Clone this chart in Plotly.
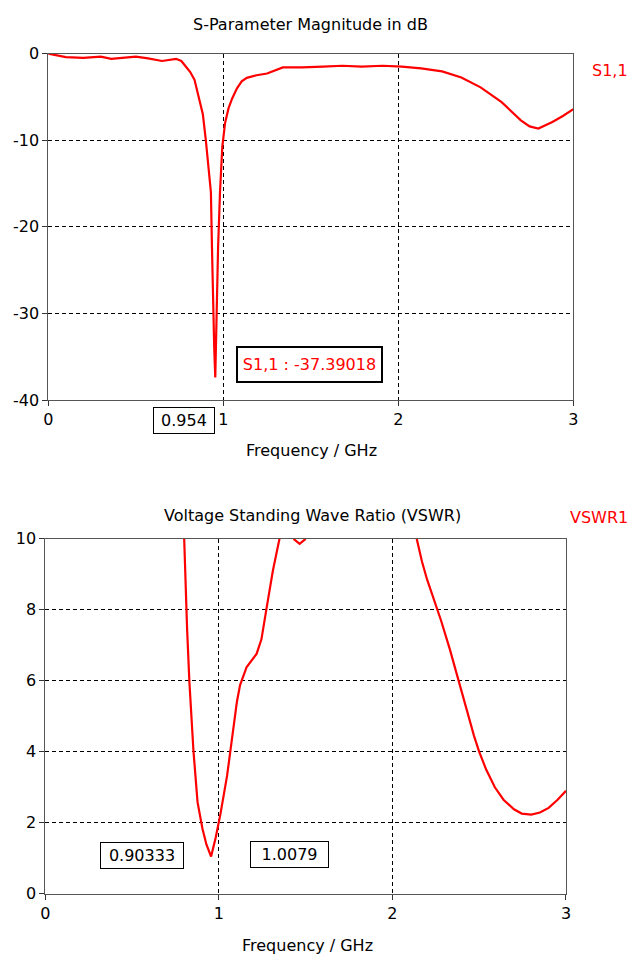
import plotly.graph_objects as go

# ---------------- data ----------------
s11_freq = [0, 0.05, 0.1, 0.2, 0.3, 0.36, 0.45, 0.5, 0.57, 0.65, 0.73, 0.76, 0.79,
            0.81, 0.835, 0.86, 0.883, 0.90, 0.915, 0.929, 0.935, 0.94, 0.948, 0.954,
            0.963, 0.97, 0.981, 0.994, 1.01, 1.03, 1.05, 1.078, 1.105, 1.134, 1.19, 1.25,
            1.34, 1.45, 1.57, 1.68, 1.79, 1.91, 2.02, 2.13, 2.25, 2.36, 2.47,
            2.59, 2.7, 2.75, 2.8, 2.88, 2.94, 3.0]
s11_db = [0, -0.2, -0.4, -0.5, -0.35, -0.6, -0.45, -0.35, -0.55, -0.85, -0.6, -0.85, -1.6,
          -2.1, -3.0, -5.0, -7.0, -10.0, -13.0, -16.0, -22.3, -28.5, -34.0, -37.39,
          -27.0, -22.4, -16.0, -10.8, -8.0, -6.3, -5.2, -4.0, -3.2, -2.8, -2.5, -2.3,
          -1.6, -1.6, -1.5, -1.4, -1.5, -1.4, -1.5, -1.7, -2.05, -2.75, -3.9,
          -5.6, -7.7, -8.4, -8.65, -7.9, -7.2, -6.4]

vswr_freq = [0.80, 0.805, 0.817, 0.83, 0.853, 0.877, 0.905, 0.928, 0.955, 0.981, 1.009,
             1.047, 1.075, 1.104, 1.122, 1.16, 1.217, 1.245, 1.273, 1.311, 1.349, None,
             1.43, 1.465, 1.50, None,
             2.14, 2.17, 2.20, 2.24, 2.28, 2.33, 2.38, 2.43, 2.47, 2.50, 2.54, 2.59, 2.64,
             2.70, 2.745, 2.80, 2.85, 2.90, 2.95, 3.0]
vswr = [10, 9.17, 7.43, 5.97, 4.05, 2.58, 1.84, 1.39, 1.05, 1.57, 2.25,
        3.32, 4.32, 5.42, 5.88, 6.39, 6.76, 7.17, 8.0, 9.1, 10, None,
        10, 9.86, 10, None,
        10, 9.36, 8.85, 8.3, 7.7, 6.9, 6.0, 5.15, 4.45, 4.0, 3.5, 3.0, 2.65,
        2.38, 2.26, 2.23, 2.29, 2.42, 2.64, 2.9]

x_ticks = [0, 1, 2, 3]
x_tick_labels = ["0", "1", "2", "3"]
s11_ticks = [0, -10, -20, -30, -40]
s11_tick_labels = ["0", "-10", "-20", "-30", "-40"]
vswr_ticks = [0, 2, 4, 6, 8, 10]
vswr_tick_labels = ["0", "2", "4", "6", "8", "10"]

s11_marker_x = 0.954
s11_marker_text = "S1,1 : -37.39018"
vswr_marker_texts = ["0.90333", "1.0079"]

# ---------------- figure ----------------
W, H = 633, 967
FONT = "DejaVu Sans"
FS = 16

def px(x):
    return x / W

def py(y):
    return 1 - y / H

fig = go.Figure()
fig.add_trace(go.Scatter(x=s11_freq, y=s11_db, mode="lines",
                         line=dict(color="#ff0000", width=2.2),
                         xaxis="x", yaxis="y", showlegend=False, hoverinfo="skip"))
fig.add_trace(go.Scatter(x=vswr_freq, y=vswr, mode="lines",
                         line=dict(color="#ff0000", width=2.2),
                         connectgaps=False,
                         xaxis="x2", yaxis="y2", showlegend=False, hoverinfo="skip"))

axis_common = dict(showline=True, linecolor="#555555", linewidth=1, mirror=True,
                   ticks="outside", ticklen=5, tickcolor="#333333",
                   showgrid=True, gridcolor="#000000", gridwidth=1, griddash="4px,3px",
                   zeroline=False, tickfont=dict(family=FONT, size=FS, color="#000000"))

fig.update_layout(
    width=W, height=H,
    margin=dict(l=0, r=0, t=0, b=0),
    paper_bgcolor="white", plot_bgcolor="white",
    font=dict(family=FONT, size=FS, color="#000000"),
    xaxis=dict(domain=[px(44), px(577.5)], range=[0, 3], tickvals=x_ticks,
               ticktext=x_tick_labels, anchor="y", **axis_common),
    yaxis=dict(domain=[py(399), py(45.5)], range=[-40, 0], tickvals=s11_ticks,
               ticktext=s11_tick_labels, anchor="x", **axis_common),
    xaxis2=dict(domain=[px(41), px(570)], range=[0, 3], tickvals=x_ticks,
                ticktext=x_tick_labels, anchor="y2", **axis_common),
    yaxis2=dict(domain=[py(902.5), py(540.5)], range=[0, 10], tickvals=vswr_ticks,
                ticktext=vswr_tick_labels, anchor="x2", **axis_common),
)

def txt(text, x, y, color="#000000", xanchor="center", **kw):
    d = dict(text=text, x=x, y=y, xref="paper", yref="paper", xanchor=xanchor,
             yanchor="middle", showarrow=False, font=dict(size=FS, family=FONT, color=color))
    d.update(kw)
    return d

ann = []
ann.append(txt("S-Parameter Magnitude in dB", px(310), py(16)))
ann.append(txt("Voltage Standing Wave Ratio (VSWR)", px(312), py(517)))
ann.append(txt("Frequency / GHz", px(311), py(450)))
ann.append(txt("Frequency / GHz", px(307), py(955)))
ann.append(txt("S1,1", px(594), py(63), color="#ff0000", xanchor="left"))
ann.append(txt("VSWR1", px(572), py(519), color="#ff0000", xanchor="left"))

# marker readouts
ann.append(dict(text=s11_marker_text, x=1.49, y=-35.9, xref="x", yref="y",
                xanchor="center", yanchor="middle", width=135, height=25,
                showarrow=False, bgcolor="white", bordercolor="#000000", borderwidth=2, borderpad=4,
                font=dict(size=FS, family=FONT, color="#ff0000")))
ann.append(dict(text=f"{s11_marker_x}", x=s11_marker_x, y=py(420), xref="x", yref="paper",
                xanchor="right", yanchor="middle", width=56, height=21, showarrow=False,
                bgcolor="white", bordercolor="#000000", borderwidth=1, borderpad=2,
                font=dict(size=FS, family=FONT)))
ann.append(dict(text=vswr_marker_texts[0], x=0.557, y=1.09, xref="x2", yref="y2",
                xanchor="center", yanchor="middle", width=76, height=19,
                showarrow=False, bgcolor="white", bordercolor="#000000", borderwidth=1, borderpad=3,
                font=dict(size=FS, family=FONT)))
ann.append(dict(text=vswr_marker_texts[1], x=1.404, y=1.12, xref="x2", yref="y2",
                xanchor="center", yanchor="middle", width=71, height=19,
                showarrow=False, bgcolor="white", bordercolor="#000000", borderwidth=1, borderpad=3,
                font=dict(size=FS, family=FONT)))
fig.update_layout(annotations=ann)

fig.write_html("out.html", config={"displayModeBar": False},
               post_script="document.body.style.margin='0';document.body.style.padding='0';")
